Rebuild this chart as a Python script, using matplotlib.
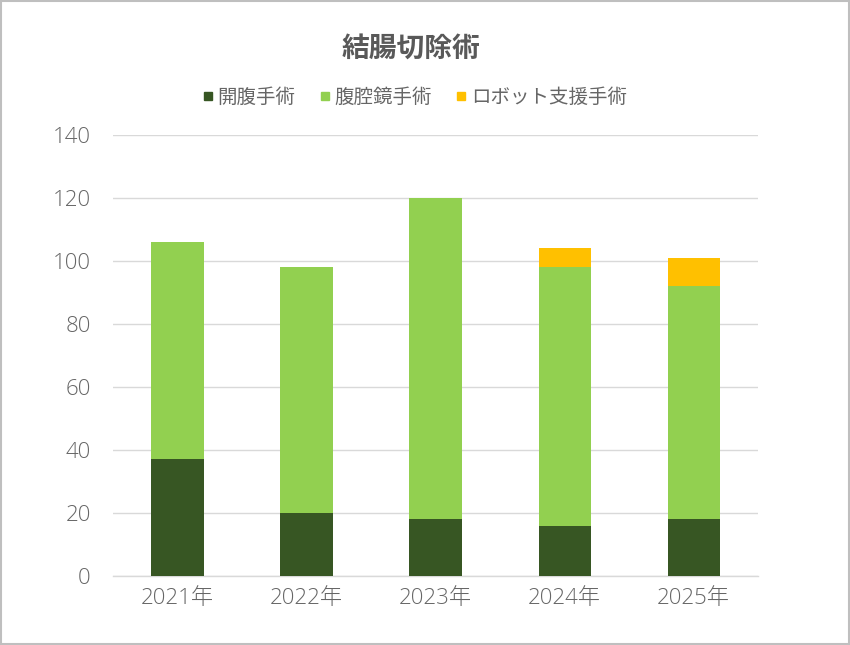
import matplotlib
matplotlib.use("Agg")
import matplotlib.pyplot as plt
from matplotlib.lines import Line2D
from matplotlib.patches import Rectangle
import numpy as np

plt.rcParams['font.family'] = ['Noto Sans CJK JP', 'DejaVu Sans']

title = "結腸切除術"
categories = ["2021年", "2022年", "2023年", "2024年", "2025年"]
series_names = ["開腹手術", "腹腔鏡手術", "ロボット支援手術"]
open_surgery = [37, 20, 18, 16, 18]
laparoscopic = [69, 78, 102, 82, 74]
robotic = [0, 0, 0, 6, 9]
yticks = [0, 20, 40, 60, 80, 100, 120, 140]

colors = ["#375623", "#92D050", "#FFC000"]
text_color = "#595959"
tick_family = ['Open Sans', 'Noto Sans CJK JP']

fig = plt.figure(figsize=(8.5, 6.45), dpi=100)
fig.patches.append(Rectangle((0.0008, 0.001), 0.998, 0.997, transform=fig.transFigure,
                             fill=False, edgecolor="#BFBFBF", linewidth=1.5))
ax = fig.add_axes([0.133, 0.107, 0.759, 0.684])

x = np.arange(len(categories))
w = 0.405
vals = [open_surgery, laparoscopic, robotic]
bottom = np.zeros(len(categories))
for v, c in zip(vals, colors):
    v = np.array(v, dtype=float)
    ax.bar(x, v, w, bottom=bottom, color=c, zorder=3, linewidth=0)
    bottom += v

ax.set_xlim(-0.5, len(categories) - 0.5)
ax.set_ylim(0, 140)
ax.set_yticks(yticks)
ax.set_xticks(x)
ax.set_xticklabels(categories)
ax.yaxis.grid(True, color="#D9D9D9", linewidth=1.0, zorder=0)
ax.set_axisbelow(True)
for s in ["top", "right", "left"]:
    ax.spines[s].set_visible(False)
ax.spines["bottom"].set_color("#D9D9D9")
ax.spines["bottom"].set_linewidth(1.0)
ax.tick_params(axis="both", length=0, labelsize=16, labelcolor="#666666")
ax.tick_params(axis="y", pad=16)
ax.tick_params(axis="x", pad=9)
for lab in ax.get_xticklabels() + ax.get_yticklabels():
    lab.set_family(tick_family)
    lab.set_fontweight("light")

fig.text(0.484, 0.925, title, ha="center", va="center", fontsize=20,
         color=text_color, fontweight="bold")

handles = [Line2D([0], [0], marker="s", linestyle="none", markersize=6,
                  markerfacecolor=c, markeredgecolor=c) for c in colors]
fig.legend(handles, series_names, loc="center", bbox_to_anchor=(0.488, 0.849),
           ncol=3, frameon=False, labelcolor="#666666",
           prop={"size": 14, "weight": "normal"},
           handlelength=0.55, handletextpad=0.2, columnspacing=1.25)

fig.savefig("out.png", dpi=100)
